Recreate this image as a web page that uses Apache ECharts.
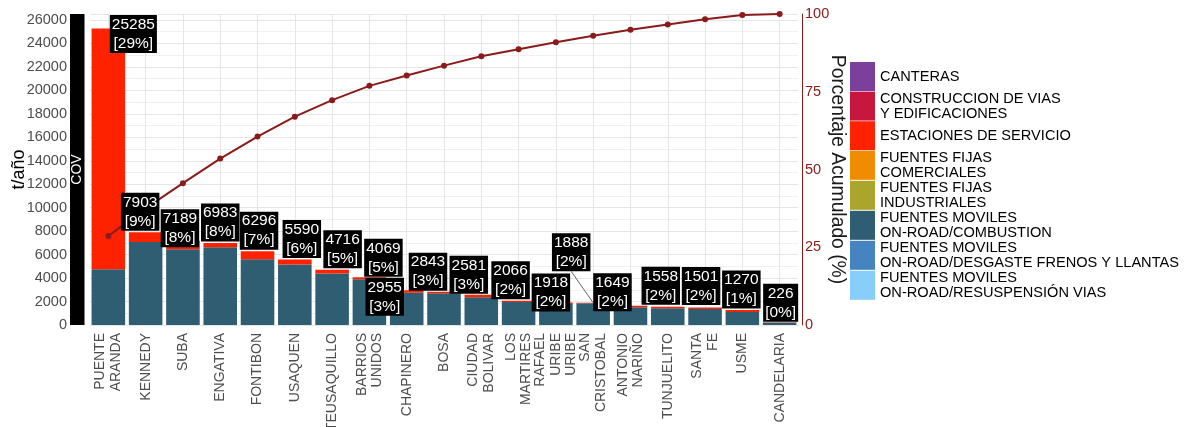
<!DOCTYPE html>
<html>
<head>
<meta charset="utf-8">
<script src="https://cdn.jsdelivr.net/npm/echarts@6/dist/echarts.min.js"></script>
<style>
  html, body { margin: 0; padding: 0; background: #ffffff; }
  #chart { width: 1188px; height: 427px; }
</style>
</head>
<body>
<div id="chart"></div>
<script>
// Localidades ordered by total COV emissions (t/año)
const localidades = [
  'PUENTE ARANDA', 'KENNEDY', 'SUBA', 'ENGATIVA', 'FONTIBON', 'USAQUEN',
  'TEUSAQUILLO', 'BARRIOS UNIDOS', 'CHAPINERO', 'BOSA', 'CIUDAD BOLIVAR',
  'LOS MARTIRES', 'RAFAEL URIBE URIBE', 'SAN CRISTOBAL', 'ANTONIO NARIÑO',
  'TUNJUELITO', 'SANTA FE', 'USME', 'CANDELARIA'
];

// Fuentes móviles on-road / combustión (t/año)
const combustion = [4745, 7070, 6450, 6620, 5600, 5150, 4400, 3890, 2750, 2700,
                    2360, 1960, 1800, 1850, 1505, 1420, 1360, 1110, 205];

// Estaciones de servicio (t/año)
const estaciones = [20540, 833, 739, 363, 696, 440, 316, 179, 205, 143,
                    221, 106, 118, 38, 144, 138, 141, 160, 21];

// Total per localidad and its share of the city total
const totals = [25285, 7903, 7189, 6983, 6296, 5590, 4716, 4069, 2955, 2843,
                2581, 2066, 1918, 1888, 1649, 1558, 1501, 1270, 226];
const sharePct = [29, 9, 8, 8, 7, 6, 5, 5, 3, 3, 3, 2, 2, 2, 2, 2, 2, 1, 0];

// Cumulative percentage (Pareto curve)
const cumPct = [28.6, 37.5, 45.6, 53.5, 60.6, 67.0, 72.3, 76.9, 80.2, 83.4,
                86.4, 88.7, 90.9, 93.0, 94.9, 96.6, 98.3, 99.7, 100];

// Axis ticks
const leftTicks = { min: 0, interval: 2000 };
const rightTicks = [0, 25, 50, 75, 100];

// Source categories shown in the legend
const fuentes = [
  { name: 'CANTERAS', color: '#7B3F9C' },
  { name: 'CONSTRUCCION DE VIAS\nY EDIFICACIONES', color: '#C8173F' },
  { name: 'ESTACIONES DE SERVICIO', color: '#FF2200' },
  { name: 'FUENTES FIJAS\nCOMERCIALES', color: '#F08C00' },
  { name: 'FUENTES FIJAS\nINDUSTRIALES', color: '#ABA52C' },
  { name: 'FUENTES MOVILES\nON-ROAD/COMBUSTION', color: '#2F5E73' },
  { name: 'FUENTES MOVILES\nON-ROAD/DESGASTE FRENOS Y LLANTAS', color: '#4584BE' },
  { name: 'FUENTES MOVILES\nON-ROAD/RESUSPENSIÓN VIAS', color: '#87CEFA' }
];
const seriesValues = {
  'ESTACIONES DE SERVICIO': estaciones,
  'FUENTES MOVILES\nON-ROAD/COMBUSTION': combustion
};

// Nudges for the value boxes so they do not collide
const labelShift = [
  [25, 25], [-5.5, -1], [-3, 7], [0, -1], [1.5, -1], [7, -1], [10.5, -1],
  [14, 0], [-22, 26], [-16, -0.5], [-12.5, -0.5], [-8, -1], [-5, 9.5],
  [-22, -31], [-18, 6], [-7, -1.5], [-4, -2], [-1, -1], [1, 0]
];

const FONT = 'Liberation Sans, Arial, sans-serif';
const DARKRED = '#8B1A1A';

const chart = echarts.init(document.getElementById('chart'), null, { renderer: 'canvas' });

// Stack order: combustion at the bottom, the rest on top
const stackOrder = [
  'FUENTES MOVILES\nON-ROAD/COMBUSTION', 'ESTACIONES DE SERVICIO', 'CANTERAS',
  'CONSTRUCCION DE VIAS\nY EDIFICACIONES', 'FUENTES FIJAS\nCOMERCIALES',
  'FUENTES FIJAS\nINDUSTRIALES', 'FUENTES MOVILES\nON-ROAD/DESGASTE FRENOS Y LLANTAS',
  'FUENTES MOVILES\nON-ROAD/RESUSPENSIÓN VIAS'
];

const barSeries = stackOrder.map((name, k) => {
  const f = fuentes.find(d => d.name === name);
  const s = {
    name: name,
    type: 'bar',
    stack: 'cov',
    barWidth: '90%',
    z: 2,
    itemStyle: { color: f.color },
    data: seriesValues[name] || []
  };
  if (k === 0) {
    // vertical grid lines at each localidad
    s.markLine = {
      silent: true,
      z: 0,
      symbol: ['none', 'none'],
      label: { show: false },
      lineStyle: { color: '#e6e6e6', width: 1, type: 'solid' },
      data: localidades.map(c => ({ xAxis: c }))
    };
  }
  return s;
});

const option = {
  animation: false,
  backgroundColor: '#ffffff',
  textStyle: { fontFamily: FONT },
  grid: {
    left: 89.7, right: 389.7, top: 14, bottom: 102,
    containLabel: false, outerBoundsMode: 'none'
  },
  legend: {
    orient: 'vertical',
    left: 850, top: 62,
    padding: 0,
    icon: 'rect',
    itemWidth: 25, itemHeight: 29, itemGap: 0.2,
    selectedMode: false,
    data: fuentes.map(f => f.name),
    textStyle: { fontFamily: FONT, fontSize: 14.6, color: '#000000', lineHeight: 14.8 }
  },
  graphic: [
    { type: 'rect', shape: { x: 70, y: 14, width: 14.5, height: 311 }, style: { fill: '#000000' }, z: 10 },
    {
      type: 'text', x: 77.5, y: 169.5, rotation: Math.PI / 2, z: 11,
      style: { text: 'COV', fill: '#ffffff', fontSize: 14, fontFamily: FONT,
               align: 'center', verticalAlign: 'middle', textAlign: 'center', textVerticalAlign: 'middle' }
    }
  ],
  xAxis: {
    type: 'category',
    data: localidades,
    axisLine: { show: false },
    axisTick: { show: false },
    splitLine: { show: false },
    axisLabel: {
      interval: 0, rotate: 90, margin: 8,
      fontFamily: FONT, fontSize: 14, lineHeight: 15.5, color: '#4d4d4d',
      formatter: v => v.split(' ').join('\n')
    }
  },
  yAxis: [
    {
      type: 'value',
      min: leftTicks.min, max: 26511, interval: leftTicks.interval,
      name: 't/año', nameLocation: 'middle', nameGap: 62, nameRotate: 90,
      nameMoveOverlap: false,
      nameTextStyle: { fontFamily: FONT, fontSize: 18, color: '#000000' },
      axisLine: { show: false },
      axisTick: { show: false },
      axisLabel: {
        margin: 22.7, fontFamily: FONT, fontSize: 14.5, color: '#4d4d4d',
        showMaxLabel: false, formatter: v => String(v)
      },
      splitLine: { show: true, lineStyle: { color: '#e6e6e6', width: 1 } },
      minorTick: { show: false, splitNumber: 2 },
      minorSplitLine: { show: true, lineStyle: { color: '#f1f1f1', width: 1 } }
    },
    {
      type: 'value',
      min: rightTicks[0], max: rightTicks[rightTicks.length - 1], interval: 25,
      position: 'right', offset: 3.7,
      name: 'Porcentaje Acumulado (%)', nameLocation: 'middle', nameGap: 26, nameRotate: -90,
      nameMoveOverlap: false,
      nameTextStyle: { fontFamily: FONT, fontSize: 19.3, color: '#1a1a1a' },
      axisLine: { show: true, lineStyle: { color: DARKRED, width: 1 } },
      axisTick: { show: false },
      axisLabel: { margin: 3, fontFamily: FONT, fontSize: 14.5, color: DARKRED, formatter: v => String(v) },
      splitLine: { show: false }
    }
  ],
  series: barSeries.concat([
    {
      name: 'Porcentaje acumulado',
      type: 'line',
      yAxisIndex: 1,
      z: 3,
      data: cumPct,
      symbol: 'circle',
      symbolSize: 6,
      itemStyle: { color: DARKRED },
      lineStyle: { color: DARKRED, width: 2 }
    },
    {
      name: 'Totales',
      type: 'scatter',
      z: 4,
      data: totals.map((v, i) => i === 13 ? { value: v, labelLine: { show: true } } : v),
      symbolSize: 1,
      itemStyle: { color: 'rgba(0,0,0,0)', opacity: 1 },
      label: {
        show: true,
        position: 'top',
        distance: 0,
        backgroundColor: '#000000',
        padding: [0, 2, 0, 2],
        color: '#ffffff',
        fontFamily: FONT,
        fontSize: 15.5,
        lineHeight: 19,
        align: 'center',
        formatter: p => totals[p.dataIndex] + '\n[' + sharePct[p.dataIndex] + '%]'
      },
      labelLine: { show: false, lineStyle: { color: '#000000', width: 0.6 } },
      labelLayout: p => ({ dx: labelShift[p.dataIndex][0], dy: labelShift[p.dataIndex][1] })
    }
  ])
};

chart.setOption(option);
</script>
</body>
</html>
